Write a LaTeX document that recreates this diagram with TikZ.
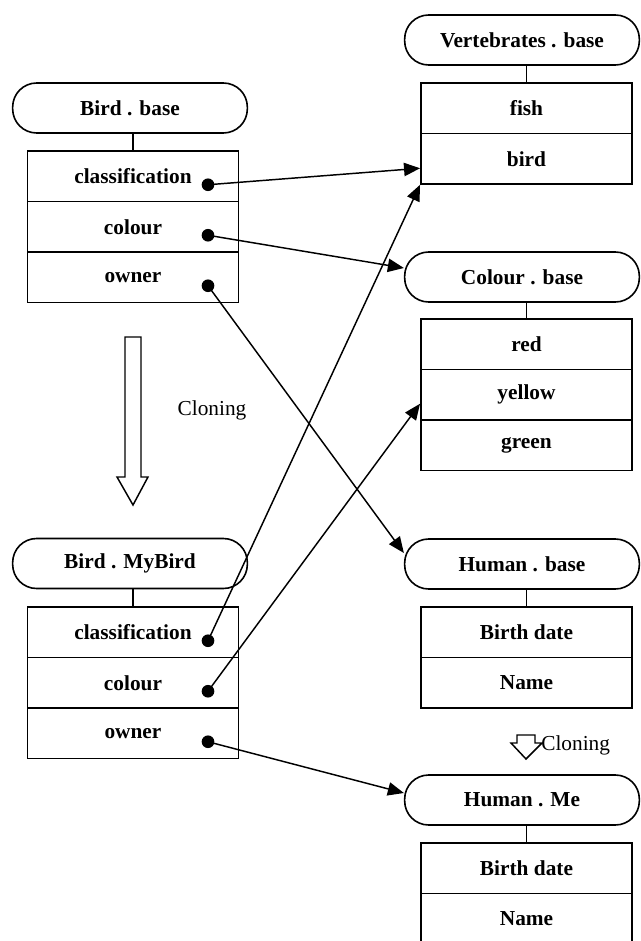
\documentclass[tikz,border=0pt]{standalone}
\usepackage{fontspec}
\setmainfont{Liberation Serif}
\usetikzlibrary{arrows.meta,calc}

\tikzset{
  header/.style={draw, line width=1.2pt, rounded corners=18pt, minimum width=176pt,
    minimum height=37.5pt, font=\fontsize{16}{19}\selectfont\bfseries},
  field/.style={draw, line width=1.2pt, minimum width=158.5pt, minimum height=37.9pt,
    font=\fontsize{16}{19}\selectfont\bfseries},
  ptr/.style={line width=1.1pt, -{Triangle[length=12pt,width=10pt]}},
  clone/.style={draw, line width=1.1pt, fill=white}
}

\begin{document}
\begin{tikzpicture}[x=0.75pt,y=-0.75pt]

      \useasboundingbox (0,0) rectangle (640,941);

      % Bird . base
      \node[header] (bb) at (130,108) {Bird . base};
      \foreach \t [count=\i] in {classification,colour,owner}
      { \node[field] (bb\i) at (133,{125.75+50.5*\i}) {\t};
        \path (208,{134.25+50.5*\i}) coordinate (bbd\i); \fill (bbd\i) circle (4.75pt); }
      \draw[line width=1.1pt] (bb1.north) -- (bb1.north |- bb.south);

      % Bird . MyBird
      \node[header] (mb) at (130,563.5) {Bird . MyBird};
      \foreach \t [count=\i] in {classification,colour,owner}
      { \node[field] (mb\i) at (133,{581.75+50.5*\i}) {\t};
        \path (208,{590.25+50.5*\i}) coordinate (mbd\i); \fill (mbd\i) circle (4.75pt); }
      \draw[line width=1.1pt] (mb1.north) -- (mb1.north |- mb.south);

      % Vertebrates . base
      \node[header] (vb) at (522,40) {Vertebrates . base};
      \foreach \t [count=\i] in {fish,bird}
      { \node[field] (vb\i) at (526.5,{57.75+50.5*\i}) {\t}; }
      \draw[line width=1.1pt] (vb1.north) -- (vb1.north |- vb.south);

      % Colour . base
      \node[header] (cb) at (522,277) {Colour . base};
      \foreach \t [count=\i] in {red,yellow,green}
      { \node[field] (cb\i) at (526.5,{293.75+50.5*\i}) {\t}; }
      \draw[line width=1.1pt] (cb1.north) -- (cb1.north |- cb.south);

      % Human . base
      \node[header] (hb) at (522,564) {Human . base};
      \foreach \t [count=\i] in {Birth date,Name}
      { \node[field] (hb\i) at (526.5,{581.75+50.5*\i}) {\t}; }
      \draw[line width=1.1pt] (hb1.north) -- (hb1.north |- hb.south);

      % Human . Me
      \node[header] (hm) at (522,800) {Human . Me};
      \foreach \t [count=\i] in {Birth date,Name}
      { \node[field] (hm\i) at (526.5,{817.75+50.5*\i}) {\t}; }
      \draw[line width=1.1pt] (hm1.north) -- (hm1.north |- hm.south);

      % cloning arrows
      \draw[clone] (125,337) -- (141,337) -- (141,477) -- (148,477) -- (133,505)
        -- (117,477) -- (125,477) -- cycle;
      \node[font=\fontsize{16}{19}\selectfont] (cl1) at (212,410) {Cloning};
      \draw[clone] (517,735) -- (535,735) -- (535,743) -- (542,743) -- (526,759)
        -- (511,743) -- (517,743) -- cycle;
      \node[font=\fontsize{16}{19}\selectfont, anchor=west, inner sep=0pt] (cl2) at (541,745) {Cloning};

      % references
      \draw[ptr] (bbd1) -- ($(vb2.west)+(0,9.5)$);
      \draw[ptr] (bbd2) -- ($(cb.west)+(0,-9)$);
      \draw[ptr] (bbd3) -- ($(hb.west)+(0,-11)$);
      \draw[ptr] (mbd1) -- (vb2.south west);
      \draw[ptr] (mbd2) -- ($(cb2.west)+(0,9)$);
      \draw[ptr] (mbd3) -- ($(hm.west)+(0,-7)$);

    \end{tikzpicture}
\end{document}
